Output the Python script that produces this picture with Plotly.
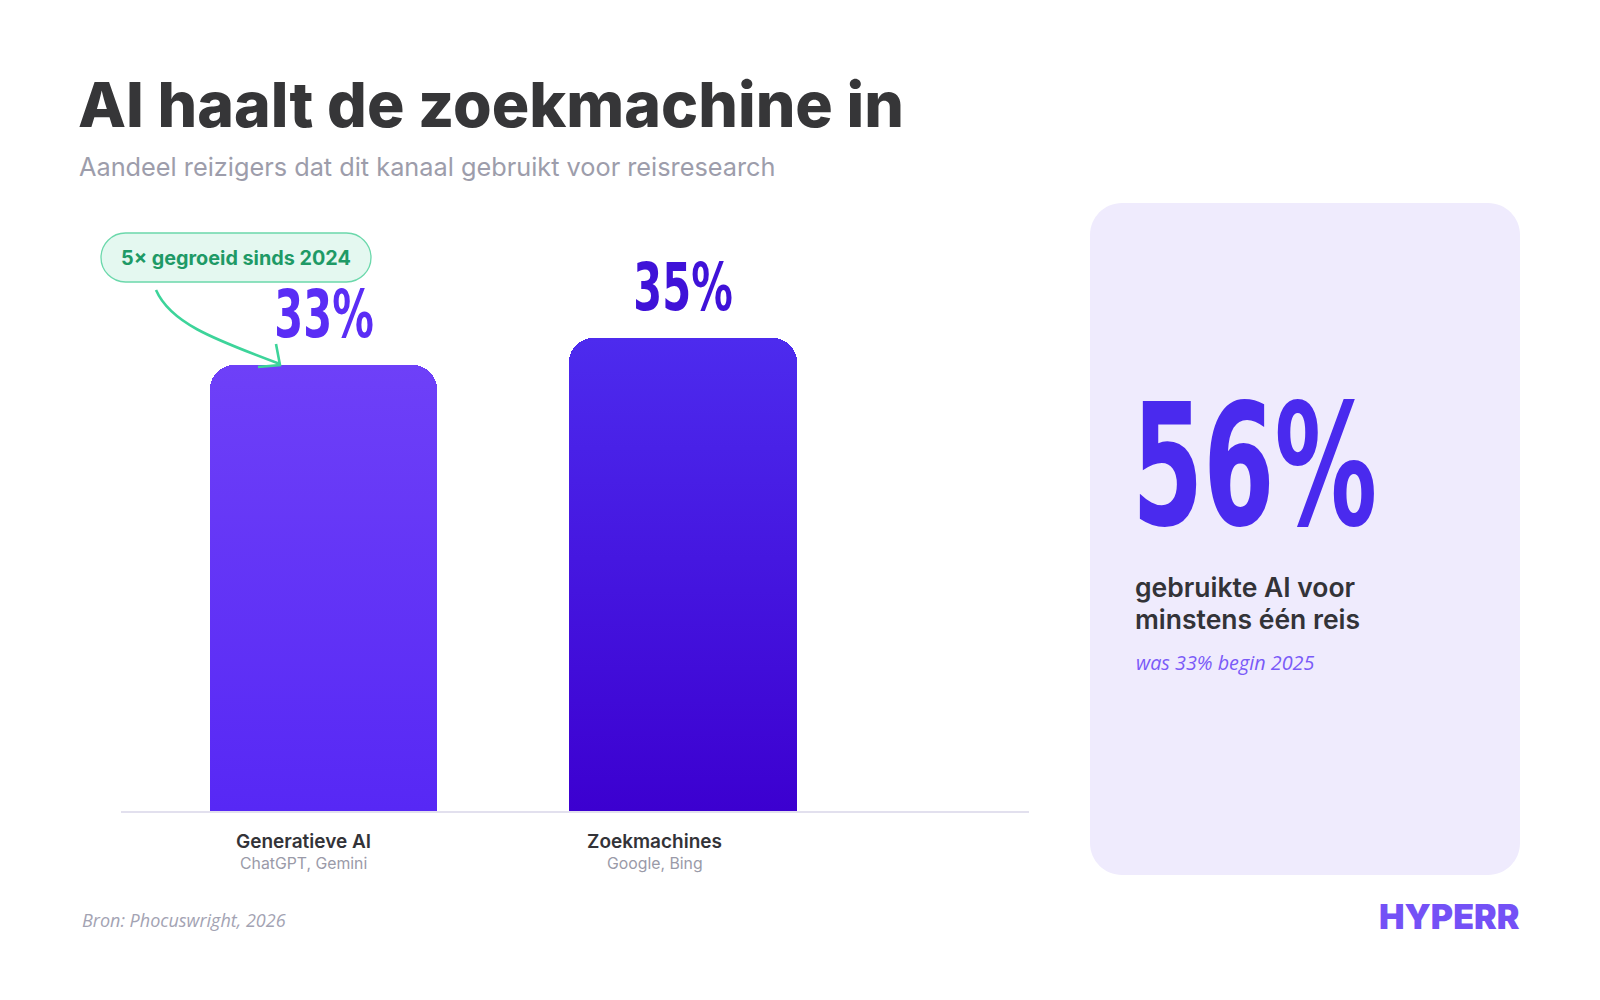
import json
import plotly.graph_objects as go

# ---------------- data ----------------
categories = ["Generatieve AI", "Zoekmachines"]
category_subs = ["ChatGPT, Gemini", "Google, Bing"]
values = [33, 35]
bar_colors = ["#6334f7", "#4414e0"]
bar_top_colors = ["#6e40f8", "#4d2bee"]
bar_bottom_colors = ["#5728f5", "#3c00d0"]
label_colors = ["#5a2df5", "#3f12d8"]
highlight_value = 56
highlight_lines = ["gebruikte AI voor", "minstens één reis"]
highlight_note = "was 33% begin 2025"
callout_text = "5× gegroeid sinds 2024"
title_text = "AI haalt de zoekmachine in"
subtitle_text = "Aandeel reizigers dat dit kanaal gebruikt voor reisresearch"
source_text = "Bron: Phocuswright, 2026"
brand_text = "HYPERR"

W, H = 1600, 1000
COND = "DejaVu Sans Condensed, Liberation Sans Narrow, Roboto Condensed, Arial Narrow, sans-serif"


def px(x):
    return x / W


def py(y):
    return 1 - y / H


def rounded_rect(x0, y0, x1, y1, r):
    k = 0.5523 * r
    pts = [
        f"M{px(x0 + r)},{py(y0)}",
        f"L{px(x1 - r)},{py(y0)}",
        f"C{px(x1 - r + k)},{py(y0)} {px(x1)},{py(y0 + r - k)} {px(x1)},{py(y0 + r)}",
        f"L{px(x1)},{py(y1 - r)}",
        f"C{px(x1)},{py(y1 - r + k)} {px(x1 - r + k)},{py(y1)} {px(x1 - r)},{py(y1)}",
        f"L{px(x0 + r)},{py(y1)}",
        f"C{px(x0 + r - k)},{py(y1)} {px(x0)},{py(y1 - r + k)} {px(x0)},{py(y1 - r)}",
        f"L{px(x0)},{py(y0 + r)}",
        f"C{px(x0)},{py(y0 + r - k)} {px(x0 + r - k)},{py(y0)} {px(x0 + r)},{py(y0)}",
        "Z",
    ]
    return " ".join(pts)


fig = go.Figure()
fig.add_trace(
    go.Bar(
        x=categories,
        y=values,
        width=0.635,
        marker=dict(color=bar_colors, line=dict(width=0), cornerradius=24),
        hoverinfo="skip",
    )
)

shapes = []
shapes.append(dict(type="path", xref="paper", yref="paper",
                   path=rounded_rect(1090, 203, 1520, 875, 32),
                   fillcolor="#efebfd", line=dict(width=0), layer="below"))
shapes.append(dict(type="path", xref="paper", yref="paper",
                   path=rounded_rect(101, 233, 371, 282, 24.5),
                   fillcolor="#e4f8f0", line=dict(color="#6bd8ab", width=1.3)))
shapes.append(dict(type="path", xref="paper", yref="paper",
                   path=f"M{px(156)},{py(290)} C{px(170)},{py(322)} {px(210)},{py(338)} {px(280)},{py(364)}",
                   line=dict(color="#3dd49a", width=2.6)))
shapes.append(dict(type="path", xref="paper", yref="paper",
                   path=f"M{px(276)},{py(344)} L{px(280)},{py(365)} L{px(258)},{py(367)}",
                   line=dict(color="#3dd49a", width=2.6)))

ann = []
ann.append(dict(text=title_text, x=px(76), y=py(104), xanchor="left", yanchor="middle",
                font=dict(family="Inter", size=62.5, color="#363638", weight=800)))
ann.append(dict(text=subtitle_text, x=px(77), y=py(166), xanchor="left", yanchor="middle",
                font=dict(family="Inter", size=25.3, color="#9d9dab")))
ann.append(dict(text=callout_text, x=px(236), y=py(257.5), xanchor="center", yanchor="middle",
                font=dict(family="Inter", size=19.8, color="#1e9a66", weight=700)))

for c, v, col in zip(categories, values, label_colors):
    ann.append(dict(text=f"{v}%", x=c, y=v, xref="x", yref="y", xanchor="center",
                    yanchor="middle", yshift=50, showarrow=False,
                    font=dict(family=COND, size=66, color=col, weight=700)))

shifts = [-20, -28]
for c, s, sh in zip(categories, category_subs, shifts):
    ann.append(dict(text=c, x=c, xref="x", y=py(841), xanchor="center", yanchor="middle",
                    xshift=sh, showarrow=False,
                    font=dict(family="Inter", size=19, color="#333338", weight=600)))
    ann.append(dict(text=s, x=c, xref="x", y=py(863), xanchor="center", yanchor="middle",
                    xshift=sh, showarrow=False,
                    font=dict(family="Inter", size=15.8, color="#9a9aa8")))

ann.append(dict(text=f"{highlight_value}%", x=px(1130), y=py(466), xanchor="left", yanchor="middle",
                font=dict(family=COND, size=170, color="#4a2aee", weight=700)))
for i, line in enumerate(highlight_lines):
    ann.append(dict(text=line, x=px(1133), y=py(587 + 32 * i), xanchor="left", yanchor="middle",
                    font=dict(family="Inter", size=26.5, color="#333338", weight=600)))
ann.append(dict(text=highlight_note, x=px(1134), y=py(662), xanchor="left", yanchor="middle",
                font=dict(family="Open Sans", size=19.8, color="#7a5af8", style="italic")))

ann.append(dict(text=source_text, x=px(80), y=py(920), xanchor="left", yanchor="middle",
                font=dict(family="Open Sans", size=18, color="#a3a3b3", style="italic")))
ann.append(dict(text=brand_text, x=px(1522), y=py(916.5), xanchor="right", yanchor="middle",
                font=dict(family="Inter", size=34, color="#7451f6", weight=900)))

for a in ann:
    a.setdefault("xref", "paper")
    a.setdefault("yref", "paper")
    a.setdefault("showarrow", False)

axis_bottom = 811
fig.update_layout(
    width=W, height=H,
    margin=dict(l=0, r=0, t=0, b=0),
    paper_bgcolor="white", plot_bgcolor="rgba(0,0,0,0)",
    showlegend=False,
    bargap=0,
    xaxis=dict(domain=[121 / W, 1029 / W], range=[-0.564, 1.965], showticklabels=False,
               showgrid=False, zeroline=False, showline=True, linecolor="#e2e0ee",
               linewidth=2, ticks="", fixedrange=True),
    yaxis=dict(domain=[py(axis_bottom), py(215)], range=[0, 44.08], visible=False, fixedrange=True),
    shapes=shapes,
    annotations=ann,
)

# condensed look for the big percentage figures (horizontal squeeze of the real text)
squeeze = {f"{v}%": ["center center", 0.70] for v in values}
squeeze[f"{highlight_value}%"] = ["left center", 0.67]
post = """
document.body.style.margin='0';document.body.style.overflow='hidden';
var SQ=%s, TOP=%s, BOT=%s;
document.querySelectorAll('text.annotation-text').forEach(function(t){
  var s=t.textContent;
  if(SQ[s]){
    t.style.transformBox='fill-box';
    t.style.transformOrigin=SQ[s][0];
    t.style.transform='scaleX('+SQ[s][1]+')';
  }
});
var svg=document.querySelector('svg.main-svg');
var defs=svg.querySelector('defs');
var NS='http://www.w3.org/2000/svg';
document.querySelectorAll('.barlayer .point path').forEach(function(p,i){
  if(i>=TOP.length) return;
  var g=document.createElementNS(NS,'linearGradient');
  g.setAttribute('id','barGrad'+i);
  g.setAttribute('x1','0');g.setAttribute('y1','0');g.setAttribute('x2','0');g.setAttribute('y2','1');
  [[0,TOP[i]],[1,BOT[i]]].forEach(function(st){
    var e=document.createElementNS(NS,'stop');
    e.setAttribute('offset',st[0]);e.setAttribute('stop-color',st[1]);
    g.appendChild(e);
  });
  defs.appendChild(g);
  p.style.fill='url(#barGrad'+i+')';
});
""" % (json.dumps(squeeze), json.dumps(bar_top_colors), json.dumps(bar_bottom_colors))

fig.write_html("out.html", config={"displayModeBar": False}, post_script=post)
